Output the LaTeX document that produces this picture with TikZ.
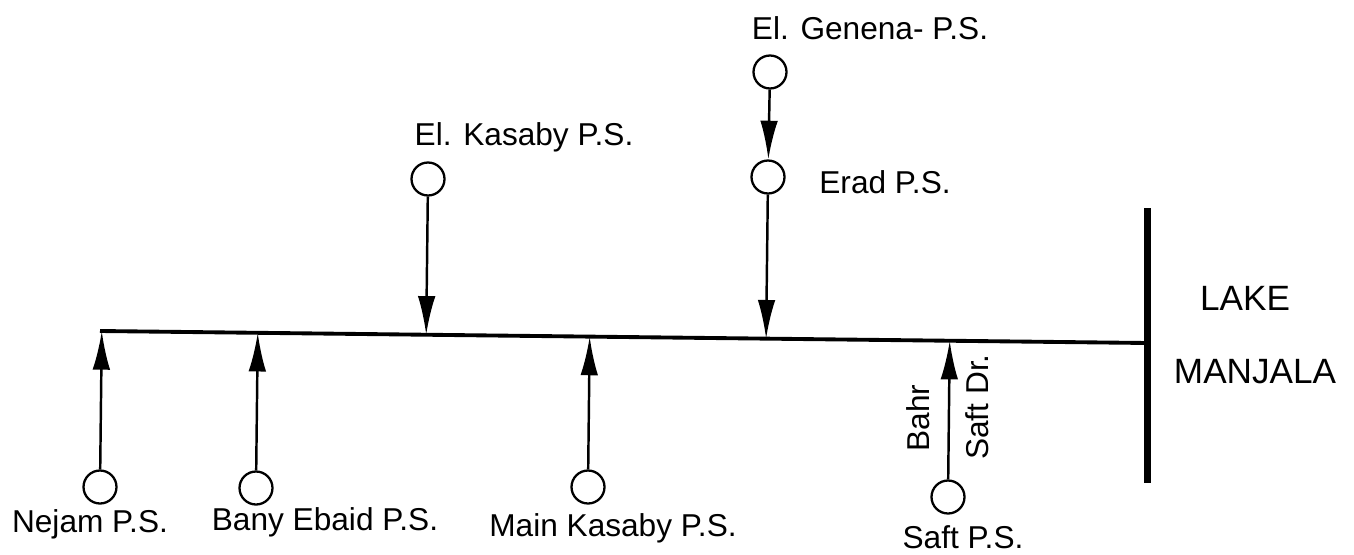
\documentclass[tikz,border=0pt]{standalone}
\usepackage{fontspec}
\setmainfont{Liberation Sans}
\usepackage{tikz}
\usetikzlibrary{calc,arrows.meta}
\tikzset{>={Latex[length=22pt,width=10pt]}}
\tikzset{
  station/.style={circle, draw, line width=1.3pt, minimum size=0.66cm, inner sep=0pt},
  flow/.style={->, line width=1.4pt},
  lbl/.style={inner sep=0pt, font=\fontsize{18}{21}\selectfont},
  lakelbl/.style={inner sep=0pt, font=\fontsize{20}{24}\selectfont},
}

\begin{document}
\begin{tikzpicture}[x=0.02cm, y=-0.02cm]
    \useasboundingbox (0, 0) rectangle (1354, 554);
    % main drain and the lake
    \coordinate (west) at (100, 331);
    \coordinate (east) at (1147, 343);
    \coordinate (laketop) at (1147, 208);
    \coordinate (lakebot) at (1147, 483);
    \draw[line width=2.2pt] (west) -- (east);
    \draw[line width=4pt] (laketop) -- (lakebot);
    \node[lakelbl] (lake) at (1245, 298) {LAKE};
    \node[lakelbl] (manjala) at (1255, 372) {MANJALA};

    % pump stations
    \node[station] (nejam) at (100, 487) {};
    \node[station] (bany) at (256, 488) {};
    \node[station] (mainkas) at (588, 487) {};
    \node[station] (saft) at (948, 497) {};
    \node[station] (elkas) at (428, 179) {};
    \node[station] (erad) at (768, 177) {};
    \node[station] (genena) at (770, 72) {};

    \node[lbl] (nejamlbl) at (90, 524) {Nejam P.S.};
    \node[lbl] (banylbl) at (325, 522) {Bany Ebaid P.S.};
    \node[lbl] (mainkaslbl) at (613, 528) {Main Kasaby P.S.};
    \node[lbl] (saftlbl) at (963, 537) {Saft P.S.};
    \node[lbl] (elkaslbl) at (524, 137) {El. Kasaby P.S.};
    \node[lbl] (eradlbl) at (885, 182) {Erad P.S.};
    \node[lbl] (genenalbl) at (870, 28) {El. Genena- P.S.};
    \node[lbl, rotate=90] (bahr) at (918, 418) {Bahr};
    \node[lbl, rotate=90] (saftdr) at (977, 407) {Saft Dr.};

    % flows into the drain
    \draw[flow] (nejam) -- ($(west)!(nejam)!(east)$);
    \draw[flow] (bany) -- ($(west)!(bany)!(east)$);
    \draw[flow] (mainkas) -- ($(west)!(mainkas)!(east)$);
    \draw[flow] (saft) -- ($(west)!(saft)!(east)$);
    \draw[flow] (elkas) -- ($(west)!(elkas)!(east)$);
    \draw[flow] (erad) -- ($(west)!(erad)!(east)$);
    \draw[flow] (genena) -- (erad);
  \end{tikzpicture}
\end{document}
